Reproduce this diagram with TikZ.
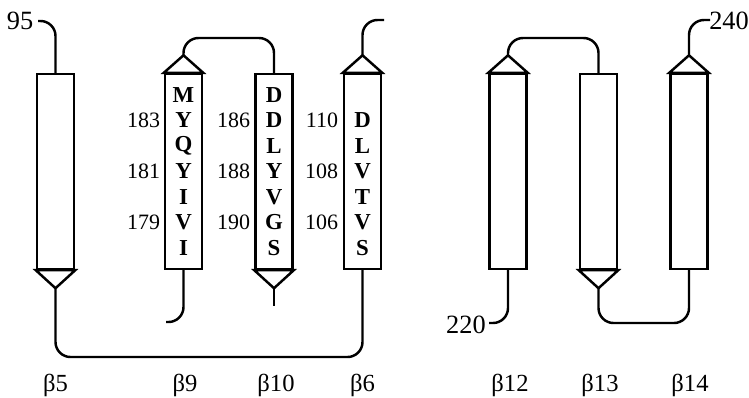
\documentclass[tikz,border=0pt]{standalone}
\usepackage{fontspec}
\setmainfont{Liberation Serif}
\begin{document}
\begin{tikzpicture}[x=0.02cm, y=-0.02cm, line width=1.4pt]
    \tikzstyle{strand}=[draw, rectangle, inner sep=0pt, minimum width=0.74cm, minimum height=3.9cm]
    \tikzstyle{head}=[fill=white, line join=miter]
    \tikzstyle{conn}=[rounded corners=0.3cm]
    \tikzstyle{res}=[inner sep=0pt, font=\fontsize{13}{15}\selectfont\bfseries]
    \tikzstyle{num}=[anchor=east, inner sep=1pt, font=\fontsize{12.5}{15}\selectfont]
    \tikzstyle{sname}=[font=\fontsize{14}{16}\selectfont]
    \tikzstyle{term}=[inner sep=1pt, font=\fontsize{15}{17}\selectfont]
    \useasboundingbox (0,0) rectangle (749,397);
    % first sheet: strands
    \node[strand] (b5) at (55.5,171.5) {};
    \node[strand] (b9) at (183.5,171.5) {};
    \node[strand] (b10) at (274,171.5) {};
    \node[strand] (b6) at (362.5,171.5) {};
    \coordinate (b5tip) at ([yshift=-0.36cm]b5.south);
    \coordinate (b9tip) at ([yshift=0.35cm]b9.north);
    \coordinate (b10tip) at ([yshift=-0.36cm]b10.south);
    \coordinate (b6tip) at ([yshift=0.35cm]b6.north);
    \draw[head] (b5.south west) -- (b5tip) -- (b5.south east) -- cycle;
    \draw[head] (b9.north west) -- (b9tip) -- (b9.north east) -- cycle;
    \draw[head] (b10.south west) -- (b10tip) -- (b10.south east) -- cycle;
    \draw[head] (b6.north west) -- (b6tip) -- (b6.north east) -- cycle;
    % residues
    \foreach \r [count=\i] in {M,Y,Q,Y,I,V,I}
      \node[res] (r9-\i) at (183.5,69.5+25.5*\i) {\r};
    \foreach \r [count=\i] in {D,D,L,Y,V,G,S}
      \node[res] (r10-\i) at (274,69.5+25.5*\i) {\r};
    \foreach \r [count=\i from 2] in {D,L,V,T,V,S}
      \node[res] (r6-\i) at (362.5,69.5+25.5*\i) {\r};
    \node[num] (n183) at (163,120.5) {183};
    \node[num] (n181) at (163,171.5) {181};
    \node[num] (n179) at (163,222.5) {179};
    \node[num] (n186) at (253,120.5) {186};
    \node[num] (n188) at (253,171.5) {188};
    \node[num] (n190) at (253,222.5) {190};
    \node[num] (n110) at (341,120.5) {110};
    \node[num] (n108) at (341,171.5) {108};
    \node[num] (n106) at (341,222.5) {106};
    % first sheet: loops
    \node[term] (l95) at (20,21) {95};
    \coordinate (c95) at (38,21);
    \coordinate (top1) at (230,38);
    \coordinate (low1) at (210,357);
    \coordinate (e9) at (166,322);
    \coordinate (e10) at (274,306);
    \coordinate (e6) at (384,20);
    \draw[conn] (c95) -| (b5.north);
    \draw[conn] (b5tip) |- (low1) -| (b6.south);
    \draw[conn] (b9tip) |- (top1) -| (b10.north);
    \draw[conn] (b9.south) |- (e9);
    \draw (b10tip) -- (e10);
    \draw[conn] (b6tip) |- (e6);
    % second sheet
    \begin{scope}
      \node[strand] (b12) at (508,171.5) {};
      \node[strand] (b13) at (598.5,171.5) {};
      \node[strand] (b14) at (689,171.5) {};
      \coordinate (b12tip) at ([yshift=0.35cm]b12.north);
      \coordinate (b13tip) at ([yshift=-0.36cm]b13.south);
      \coordinate (b14tip) at ([yshift=0.35cm]b14.north);
      \draw[head] (b12.north west) -- (b12tip) -- (b12.north east) -- cycle;
      \draw[head] (b13.south west) -- (b13tip) -- (b13.south east) -- cycle;
      \draw[head] (b14.north west) -- (b14tip) -- (b14.north east) -- cycle;
      \node[term] (l220) at (466,325) {220};
      \node[term] (l240) at (729,21) {240};
      \coordinate (top2) at (550,38);
      \coordinate (low2) at (640,323);
      \coordinate (e12) at (489,323);
      \coordinate (e14) at (710,20);
      \draw[conn] (b12tip) |- (top2) -| (b13.north);
      \draw[conn] (b13tip) |- (low2) -| (b14.south);
      \draw[conn] (b12.south) |- (e12);
      \draw[conn] (b14tip) |- (e14);
    \end{scope}
    % strand names
    \node[sname] (s5) at (55.5,385) {β5};
    \node[sname] (s9) at (185,385) {β9};
    \node[sname] (s10) at (276,385) {β10};
    \node[sname] (s6) at (362.5,385) {β6};
    \node[sname] (s12) at (510,385) {β12};
    \node[sname] (s13) at (600,385) {β13};
    \node[sname] (s14) at (690,385) {β14};
\end{tikzpicture}
\end{document}
